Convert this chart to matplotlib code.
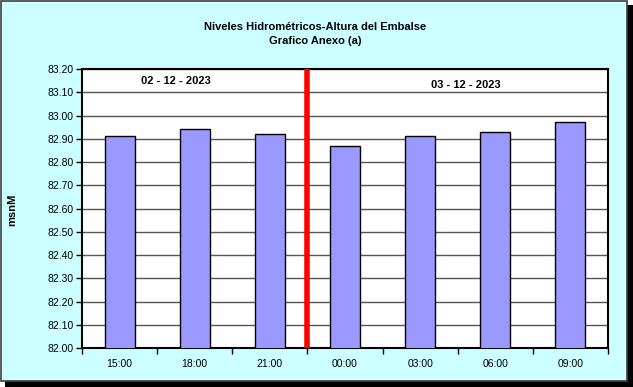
import matplotlib
matplotlib.use("Agg")
import matplotlib.pyplot as plt
from matplotlib.patches import Rectangle

plt.rcParams['font.family'] = ['Liberation Sans', 'DejaVu Sans']

horas = ["15:00", "18:00", "21:00", "00:00", "03:00", "06:00", "09:00"]
niveles = [82.91, 82.94, 82.92, 82.87, 82.91, 82.93, 82.97]
yticks = [82.00, 82.10, 82.20, 82.30, 82.40, 82.50, 82.60, 82.70, 82.80, 82.90,
          83.00, 83.10, 83.20]
fechas = ["02 - 12 - 2023", "03 - 12 - 2023"]

fig = plt.figure(figsize=(6.33, 3.87), dpi=100)
fig.patch.set_facecolor('white')

# fondo cian con sombra
fig.patches.append(Rectangle((5 / 633, 0), 628 / 633, 382 / 387, transform=fig.transFigure,
                             facecolor='black', edgecolor='none', zorder=-2))
fig.patches.append(Rectangle((0.5 / 633, 6 / 387), 626 / 633, 380.5 / 387, transform=fig.transFigure,
                             facecolor='#CCFFFF', edgecolor='#404040', linewidth=1.2, zorder=-1))

ax = fig.add_axes([82 / 633, 1 - 348 / 387, 526 / 633, 279 / 387])
ax.set_facecolor('white')
x = list(range(len(horas)))
ax.bar(x, niveles, width=0.4, color='#9999FF', edgecolor='black', linewidth=1, zorder=3)
ax.axvline(2.5, color='red', linewidth=4, zorder=4)

ax.set_xlim(-0.5, len(horas) - 0.5)
ax.set_ylim(82.0, 83.2)
ax.set_yticks(yticks)
ax.set_yticklabels([f"{v:.2f}" for v in yticks], fontsize=7.5)
ax.set_xticks(x)
ax.set_xticklabels(horas, fontsize=7.5)
ax.tick_params(axis='x', length=0, pad=8)
ax.set_xticks([i - 0.5 for i in range(len(horas) + 1)], minor=True)
ax.tick_params(axis='x', which='minor', length=4, direction='out', width=1)
ax.tick_params(axis='y', length=4, direction='out', width=1, pad=2)
ax.grid(axis='y', color='#555555', linewidth=1, zorder=0)
for s in ax.spines.values():
    s.set_linewidth(1.5)
    s.set_color('black')

ax.text(0.75, 83.15, fechas[0], ha='center', va='center', fontsize=8, fontweight='bold', zorder=5)
ax.text(4.61, 83.13, fechas[1], ha='center', va='center', fontsize=8, fontweight='bold', zorder=5)

fig.text(315 / 633, 1 - 27 / 387, "Niveles Hidrométricos-Altura del Embalse", ha='center', va='center',
         fontsize=8, fontweight='bold')
fig.text(315 / 633, 1 - 41 / 387, "Grafico Anexo (a)", ha='center', va='center',
         fontsize=8, fontweight='bold')
fig.text(12 / 633, 1 - 210 / 387, "msnM", rotation=90, ha='center', va='center',
         fontsize=8, fontweight='bold')

fig.savefig("out.png", dpi=100)
